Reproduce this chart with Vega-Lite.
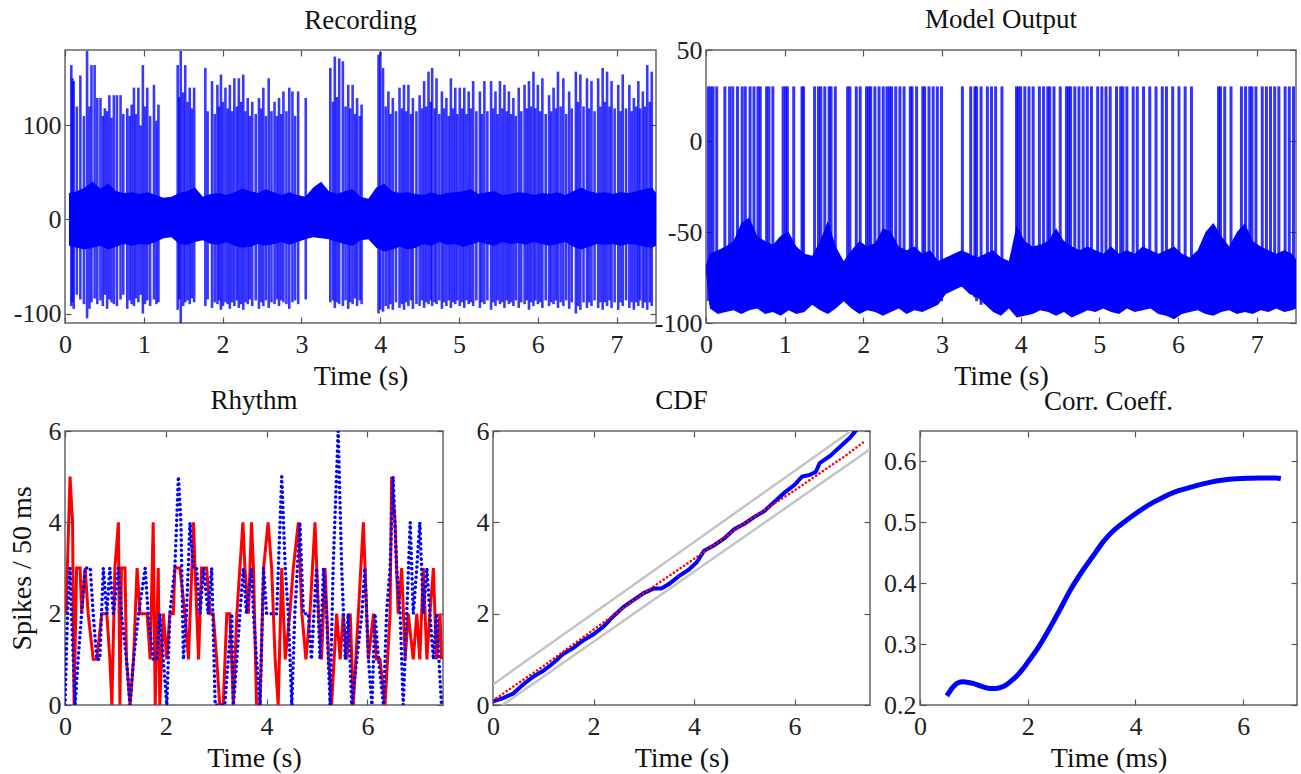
{
  "$schema": "https://vega.github.io/schema/vega-lite/v6.json",
  "padding": {"left": 7, "top": 5, "right": 0, "bottom": 0},
  "background": "white",
  "bounds": "flush",
  "spacing": 381,
  "config": {
    "view": {"stroke": "#666666", "strokeWidth": 1.5},
    "font": "Liberation Serif",
    "axis": {"domain": false, "grid": false, "tickSize": -6, "tickColor": "#555555", "tickWidth": 1.2, "labelFont": "Liberation Serif", "labelFontSize": 26, "labelColor": "#222222", "titleFont": "Liberation Serif", "titleFontSize": 28, "titleFontWeight": "normal", "titleColor": "#111111", "titlePadding": 5, "labelFlush": false, "labelOverlap": false},
    "axisX": {"labelPadding": 14},
    "axisY": {"labelPadding": 10},
    "title": {"font": "Liberation Serif", "fontSize": 27, "fontWeight": "normal", "color": "#111111", "baseline": "alphabetic", "anchor": "middle"}
  },
  "datasets": {
    "recBand": [
      {"t":0.05,"lo":-28,"hi":28},{"t":0.15,"lo":-30,"hi":30},{"t":0.25,"lo":-32,"hi":34},{"t":0.35,"lo":-30,"hi":40},{"t":0.45,"lo":-28,"hi":33},{"t":0.55,"lo":-32,"hi":38},{"t":0.65,"lo":-29,"hi":30},{"t":0.75,"lo":-26,"hi":28},{"t":0.85,"lo":-28,"hi":29},{"t":0.95,"lo":-26,"hi":27},{"t":1.05,"lo":-27,"hi":29},{"t":1.15,"lo":-24,"hi":26},{"t":1.25,"lo":-20,"hi":23},{"t":1.35,"lo":-19,"hi":24},{"t":1.45,"lo":-26,"hi":28},{"t":1.55,"lo":-27,"hi":30},{"t":1.65,"lo":-24,"hi":34},{"t":1.75,"lo":-22,"hi":24},{"t":1.85,"lo":-26,"hi":27},{"t":1.95,"lo":-27,"hi":28},{"t":2.05,"lo":-24,"hi":26},{"t":2.15,"lo":-28,"hi":29},{"t":2.25,"lo":-30,"hi":33},{"t":2.35,"lo":-29,"hi":30},{"t":2.45,"lo":-26,"hi":28},{"t":2.55,"lo":-28,"hi":32},{"t":2.65,"lo":-26,"hi":29},{"t":2.75,"lo":-24,"hi":26},{"t":2.85,"lo":-27,"hi":29},{"t":2.95,"lo":-24,"hi":26},{"t":3.05,"lo":-21,"hi":24},{"t":3.15,"lo":-19,"hi":34},{"t":3.25,"lo":-20,"hi":40},{"t":3.35,"lo":-21,"hi":30},{"t":3.45,"lo":-24,"hi":27},{"t":3.55,"lo":-26,"hi":30},{"t":3.65,"lo":-28,"hi":32},{"t":3.75,"lo":-22,"hi":24},{"t":3.85,"lo":-21,"hi":22},{"t":3.95,"lo":-30,"hi":34},{"t":4.05,"lo":-34,"hi":38},{"t":4.15,"lo":-32,"hi":30},{"t":4.25,"lo":-29,"hi":28},{"t":4.35,"lo":-32,"hi":29},{"t":4.45,"lo":-30,"hi":27},{"t":4.55,"lo":-26,"hi":26},{"t":4.65,"lo":-28,"hi":29},{"t":4.75,"lo":-24,"hi":26},{"t":4.85,"lo":-27,"hi":28},{"t":4.95,"lo":-26,"hi":29},{"t":5.05,"lo":-29,"hi":30},{"t":5.15,"lo":-27,"hi":32},{"t":5.25,"lo":-24,"hi":27},{"t":5.35,"lo":-26,"hi":29},{"t":5.45,"lo":-28,"hi":30},{"t":5.55,"lo":-24,"hi":26},{"t":5.65,"lo":-26,"hi":27},{"t":5.75,"lo":-25,"hi":29},{"t":5.85,"lo":-27,"hi":28},{"t":5.95,"lo":-24,"hi":26},{"t":6.05,"lo":-26,"hi":28},{"t":6.15,"lo":-28,"hi":27},{"t":6.25,"lo":-26,"hi":29},{"t":6.35,"lo":-24,"hi":26},{"t":6.45,"lo":-29,"hi":30},{"t":6.55,"lo":-32,"hi":34},{"t":6.65,"lo":-29,"hi":30},{"t":6.75,"lo":-26,"hi":28},{"t":6.85,"lo":-27,"hi":29},{"t":6.95,"lo":-26,"hi":27},{"t":7.05,"lo":-28,"hi":29},{"t":7.15,"lo":-26,"hi":28},{"t":7.25,"lo":-27,"hi":30},{"t":7.35,"lo":-29,"hi":32},{"t":7.45,"lo":-30,"hi":34},{"t":7.5,"lo":-28,"hi":28}
    ],
    "recSpikes": [
      {"t":0.08,"lo":-92,"hi":164},{"t":0.095,"lo":-88,"hi":150},{"t":0.11,"lo":-95,"hi":147},{"t":0.15,"lo":-80,"hi":120},{"t":0.195,"lo":-85,"hi":153},{"t":0.24,"lo":-90,"hi":110},{"t":0.28,"lo":-105,"hi":179},{"t":0.31,"lo":-95,"hi":120},{"t":0.336,"lo":-88,"hi":164},{"t":0.376,"lo":-84,"hi":164},{"t":0.41,"lo":-90,"hi":129},{"t":0.45,"lo":-86,"hi":129},{"t":0.48,"lo":-92,"hi":110},{"t":0.506,"lo":-80,"hi":118},{"t":0.535,"lo":-95,"hi":115},{"t":0.563,"lo":-85,"hi":132},{"t":0.59,"lo":-88,"hi":108},{"t":0.62,"lo":-90,"hi":132},{"t":0.659,"lo":-92,"hi":132},{"t":0.705,"lo":-85,"hi":132},{"t":0.74,"lo":-80,"hi":112},{"t":0.79,"lo":-95,"hi":118},{"t":0.82,"lo":-86,"hi":110},{"t":0.846,"lo":-90,"hi":122},{"t":0.875,"lo":-92,"hi":140},{"t":0.9,"lo":-84,"hi":112},{"t":0.931,"lo":-88,"hi":140},{"t":0.96,"lo":-80,"hi":100},{"t":0.988,"lo":-100,"hi":164},{"t":1.015,"lo":-90,"hi":120},{"t":1.044,"lo":-86,"hi":140},{"t":1.08,"lo":-92,"hi":110},{"t":1.129,"lo":-85,"hi":143},{"t":1.16,"lo":-90,"hi":105},{"t":1.186,"lo":-88,"hi":122},
      {"t":1.43,"lo":-96,"hi":164},{"t":1.45,"lo":-85,"hi":130},{"t":1.469,"lo":-110,"hi":179},{"t":1.5,"lo":-92,"hi":135},{"t":1.526,"lo":-88,"hi":164},{"t":1.555,"lo":-86,"hi":125},{"t":1.583,"lo":-90,"hi":140},{"t":1.61,"lo":-84,"hi":118},{"t":1.639,"lo":-88,"hi":140},
      {"t":1.781,"lo":-92,"hi":161},{"t":1.81,"lo":-85,"hi":115},{"t":1.866,"lo":-94,"hi":147},{"t":1.9,"lo":-88,"hi":112},{"t":1.934,"lo":-90,"hi":143},{"t":1.955,"lo":-86,"hi":120},{"t":1.979,"lo":-96,"hi":154},{"t":2.005,"lo":-92,"hi":125},{"t":2.036,"lo":-88,"hi":140},{"t":2.065,"lo":-90,"hi":118},{"t":2.092,"lo":-95,"hi":143},{"t":2.12,"lo":-88,"hi":115},{"t":2.149,"lo":-92,"hi":150},{"t":2.18,"lo":-86,"hi":120},{"t":2.206,"lo":-94,"hi":150},{"t":2.235,"lo":-90,"hi":125},{"t":2.262,"lo":-96,"hi":154},{"t":2.29,"lo":-88,"hi":115},{"t":2.319,"lo":-90,"hi":129},{"t":2.345,"lo":-85,"hi":110},{"t":2.376,"lo":-92,"hi":125},{"t":2.42,"lo":-86,"hi":112},{"t":2.461,"lo":-95,"hi":129},{"t":2.49,"lo":-88,"hi":118},{"t":2.517,"lo":-92,"hi":140},{"t":2.55,"lo":-86,"hi":110},{"t":2.585,"lo":-94,"hi":150},{"t":2.62,"lo":-88,"hi":115},{"t":2.659,"lo":-90,"hi":125},{"t":2.69,"lo":-85,"hi":110},{"t":2.716,"lo":-92,"hi":129},{"t":2.745,"lo":-86,"hi":112},{"t":2.772,"lo":-88,"hi":136},{"t":2.81,"lo":-90,"hi":115},{"t":2.846,"lo":-95,"hi":140},{"t":2.886,"lo":-88,"hi":136},{"t":2.92,"lo":-86,"hi":110},{"t":2.959,"lo":-90,"hi":136},
      {"t":3.055,"lo":-85,"hi":129},{"t":3.367,"lo":-88,"hi":161},{"t":3.4,"lo":-86,"hi":125},{"t":3.424,"lo":-94,"hi":173},{"t":3.45,"lo":-88,"hi":130},{"t":3.48,"lo":-90,"hi":171},{"t":3.526,"lo":-92,"hi":168},{"t":3.56,"lo":-86,"hi":120},{"t":3.594,"lo":-95,"hi":143},{"t":3.62,"lo":-88,"hi":118},{"t":3.65,"lo":-90,"hi":143},{"t":3.68,"lo":-84,"hi":112},{"t":3.707,"lo":-92,"hi":129},{"t":3.74,"lo":-86,"hi":110},{"t":3.764,"lo":-90,"hi":122},
      {"t":3.979,"lo":-100,"hi":175},{"t":4.002,"lo":-96,"hi":178},{"t":4.036,"lo":-98,"hi":161},{"t":4.07,"lo":-92,"hi":120},{"t":4.104,"lo":-95,"hi":136},{"t":4.13,"lo":-90,"hi":112},{"t":4.16,"lo":-96,"hi":129},{"t":4.2,"lo":-88,"hi":115},{"t":4.245,"lo":-94,"hi":140},{"t":4.275,"lo":-90,"hi":118},{"t":4.302,"lo":-96,"hi":143},{"t":4.33,"lo":-88,"hi":115},{"t":4.358,"lo":-92,"hi":143},{"t":4.39,"lo":-86,"hi":112},{"t":4.415,"lo":-95,"hi":129},{"t":4.46,"lo":-90,"hi":115},{"t":4.5,"lo":-92,"hi":132},{"t":4.53,"lo":-86,"hi":118},{"t":4.557,"lo":-94,"hi":147},{"t":4.585,"lo":-88,"hi":120},{"t":4.613,"lo":-90,"hi":157},{"t":4.64,"lo":-86,"hi":125},{"t":4.659,"lo":-92,"hi":161},{"t":4.69,"lo":-88,"hi":118},{"t":4.715,"lo":-90,"hi":150},{"t":4.75,"lo":-86,"hi":112},{"t":4.783,"lo":-95,"hi":136},{"t":4.81,"lo":-88,"hi":118},{"t":4.84,"lo":-92,"hi":129},{"t":4.87,"lo":-86,"hi":110},{"t":4.897,"lo":-94,"hi":150},{"t":4.925,"lo":-88,"hi":118},{"t":4.953,"lo":-90,"hi":140},{"t":4.98,"lo":-86,"hi":112},{"t":5.01,"lo":-92,"hi":140},{"t":5.04,"lo":-88,"hi":118},{"t":5.067,"lo":-94,"hi":140},{"t":5.095,"lo":-86,"hi":112},{"t":5.123,"lo":-90,"hi":136},{"t":5.15,"lo":-88,"hi":118},{"t":5.18,"lo":-92,"hi":147},{"t":5.22,"lo":-86,"hi":115},{"t":5.265,"lo":-94,"hi":136},{"t":5.29,"lo":-88,"hi":112},{"t":5.322,"lo":-90,"hi":147},{"t":5.36,"lo":-86,"hi":115},{"t":5.407,"lo":-96,"hi":147},{"t":5.435,"lo":-88,"hi":118},{"t":5.463,"lo":-92,"hi":136},{"t":5.49,"lo":-86,"hi":112},{"t":5.52,"lo":-90,"hi":147},{"t":5.55,"lo":-88,"hi":118},{"t":5.577,"lo":-94,"hi":143},{"t":5.605,"lo":-86,"hi":115},{"t":5.633,"lo":-90,"hi":136},{"t":5.66,"lo":-88,"hi":112},{"t":5.69,"lo":-92,"hi":129},{"t":5.72,"lo":-86,"hi":110},{"t":5.758,"lo":-94,"hi":140},{"t":5.79,"lo":-88,"hi":115},{"t":5.832,"lo":-90,"hi":143},{"t":5.86,"lo":-86,"hi":118},{"t":5.888,"lo":-96,"hi":147},{"t":5.915,"lo":-88,"hi":120},{"t":5.945,"lo":-92,"hi":157},{"t":5.97,"lo":-86,"hi":118},{"t":6.001,"lo":-90,"hi":143},{"t":6.03,"lo":-88,"hi":115},{"t":6.058,"lo":-94,"hi":150},{"t":6.1,"lo":-86,"hi":112},{"t":6.143,"lo":-92,"hi":132},{"t":6.17,"lo":-88,"hi":115},{"t":6.2,"lo":-90,"hi":140},{"t":6.23,"lo":-86,"hi":118},{"t":6.256,"lo":-94,"hi":157},{"t":6.29,"lo":-88,"hi":120},{"t":6.324,"lo":-92,"hi":150},{"t":6.36,"lo":-86,"hi":112},{"t":6.398,"lo":-95,"hi":136},{"t":6.43,"lo":-88,"hi":118},{"t":6.483,"lo":-100,"hi":157},{"t":6.51,"lo":-92,"hi":125},{"t":6.54,"lo":-96,"hi":154},{"t":6.58,"lo":-88,"hi":120},{"t":6.624,"lo":-94,"hi":150},{"t":6.65,"lo":-88,"hi":118},{"t":6.681,"lo":-92,"hi":147},{"t":6.72,"lo":-86,"hi":115},{"t":6.766,"lo":-94,"hi":150},{"t":6.795,"lo":-88,"hi":120},{"t":6.823,"lo":-96,"hi":161},{"t":6.85,"lo":-88,"hi":125},{"t":6.879,"lo":-92,"hi":157},{"t":6.91,"lo":-86,"hi":120},{"t":6.936,"lo":-94,"hi":147},{"t":6.975,"lo":-88,"hi":118},{"t":7.021,"lo":-96,"hi":143},{"t":7.05,"lo":-88,"hi":115},{"t":7.078,"lo":-92,"hi":154},{"t":7.12,"lo":-86,"hi":118},{"t":7.162,"lo":-94,"hi":143},{"t":7.19,"lo":-88,"hi":115},{"t":7.219,"lo":-96,"hi":129},{"t":7.25,"lo":-88,"hi":120},{"t":7.276,"lo":-92,"hi":147},{"t":7.3,"lo":-86,"hi":118},{"t":7.333,"lo":-94,"hi":136},{"t":7.36,"lo":-88,"hi":120},{"t":7.389,"lo":-96,"hi":164},{"t":7.42,"lo":-88,"hi":125},{"t":7.446,"lo":-92,"hi":157}
    ],
    "modBand": [
      {"t":0.0,"lo":-72,"hi":-68},{"t":0.05,"lo":-92,"hi":-62},{"t":0.15,"lo":-95,"hi":-60},{"t":0.25,"lo":-94,"hi":-58},{"t":0.35,"lo":-93,"hi":-55},{"t":0.45,"lo":-95,"hi":-45},{"t":0.55,"lo":-93,"hi":-42},{"t":0.65,"lo":-92,"hi":-52},{"t":0.75,"lo":-95,"hi":-55},{"t":0.85,"lo":-94,"hi":-57},{"t":0.95,"lo":-96,"hi":-52},{"t":1.05,"lo":-93,"hi":-50},{"t":1.15,"lo":-95,"hi":-58},{"t":1.25,"lo":-94,"hi":-62},{"t":1.35,"lo":-90,"hi":-63},{"t":1.45,"lo":-93,"hi":-55},{"t":1.55,"lo":-95,"hi":-44},{"t":1.65,"lo":-92,"hi":-58},{"t":1.75,"lo":-88,"hi":-66},{"t":1.85,"lo":-92,"hi":-60},{"t":1.95,"lo":-95,"hi":-55},{"t":2.05,"lo":-93,"hi":-58},{"t":2.15,"lo":-94,"hi":-56},{"t":2.25,"lo":-96,"hi":-48},{"t":2.35,"lo":-94,"hi":-50},{"t":2.45,"lo":-92,"hi":-58},{"t":2.55,"lo":-95,"hi":-60},{"t":2.65,"lo":-93,"hi":-58},{"t":2.75,"lo":-94,"hi":-62},{"t":2.85,"lo":-92,"hi":-60},{"t":2.95,"lo":-90,"hi":-66},{"t":3.05,"lo":-84,"hi":-64},{"t":3.15,"lo":-82,"hi":-62},{"t":3.25,"lo":-80,"hi":-60},{"t":3.35,"lo":-84,"hi":-62},{"t":3.45,"lo":-86,"hi":-64},{"t":3.55,"lo":-90,"hi":-62},{"t":3.65,"lo":-94,"hi":-60},{"t":3.75,"lo":-96,"hi":-64},{"t":3.85,"lo":-92,"hi":-66},{"t":3.95,"lo":-97,"hi":-46},{"t":4.05,"lo":-96,"hi":-55},{"t":4.15,"lo":-95,"hi":-58},{"t":4.25,"lo":-93,"hi":-57},{"t":4.35,"lo":-94,"hi":-55},{"t":4.45,"lo":-96,"hi":-48},{"t":4.55,"lo":-94,"hi":-55},{"t":4.65,"lo":-97,"hi":-58},{"t":4.75,"lo":-95,"hi":-60},{"t":4.85,"lo":-93,"hi":-58},{"t":4.95,"lo":-94,"hi":-60},{"t":5.05,"lo":-92,"hi":-62},{"t":5.15,"lo":-94,"hi":-58},{"t":5.25,"lo":-95,"hi":-62},{"t":5.35,"lo":-92,"hi":-60},{"t":5.45,"lo":-94,"hi":-62},{"t":5.55,"lo":-93,"hi":-58},{"t":5.65,"lo":-92,"hi":-60},{"t":5.75,"lo":-95,"hi":-62},{"t":5.85,"lo":-96,"hi":-60},{"t":5.95,"lo":-98,"hi":-58},{"t":6.05,"lo":-95,"hi":-62},{"t":6.15,"lo":-94,"hi":-64},{"t":6.25,"lo":-93,"hi":-60},{"t":6.35,"lo":-95,"hi":-50},{"t":6.45,"lo":-96,"hi":-45},{"t":6.55,"lo":-94,"hi":-52},{"t":6.65,"lo":-93,"hi":-58},{"t":6.75,"lo":-95,"hi":-50},{"t":6.85,"lo":-94,"hi":-45},{"t":6.95,"lo":-95,"hi":-55},{"t":7.05,"lo":-93,"hi":-58},{"t":7.15,"lo":-94,"hi":-60},{"t":7.25,"lo":-92,"hi":-62},{"t":7.35,"lo":-94,"hi":-60},{"t":7.45,"lo":-93,"hi":-62},{"t":7.5,"lo":-92,"hi":-65}
    ],
    "modSpikes": [
      {"t":0.03,"lo":-88,"hi":30},{"t":0.06,"lo":-90,"hi":30},{"t":0.09,"lo":-86,"hi":30},{"t":0.136,"lo":-88,"hi":30},{"t":0.24,"lo":-90,"hi":30},{"t":0.3,"lo":-86,"hi":30},{"t":0.34,"lo":-88,"hi":30},{"t":0.4,"lo":-90,"hi":30},{"t":0.46,"lo":-86,"hi":30},{"t":0.5,"lo":-88,"hi":30},{"t":0.56,"lo":-90,"hi":30},{"t":0.61,"lo":-86,"hi":30},{"t":0.66,"lo":-88,"hi":30},{"t":0.69,"lo":-90,"hi":30},{"t":0.77,"lo":-86,"hi":30},{"t":0.8,"lo":-88,"hi":30},{"t":0.85,"lo":-90,"hi":30},{"t":0.98,"lo":-86,"hi":30},{"t":1.01,"lo":-88,"hi":30},{"t":1.035,"lo":-90,"hi":30},{"t":1.115,"lo":-86,"hi":30},{"t":1.22,"lo":-88,"hi":30},{"t":1.24,"lo":-90,"hi":30},{"t":1.38,"lo":-86,"hi":30},{"t":1.43,"lo":-88,"hi":30},{"t":1.46,"lo":-90,"hi":30},{"t":1.51,"lo":-86,"hi":30},{"t":1.565,"lo":-88,"hi":30},{"t":1.59,"lo":-90,"hi":30},{"t":1.644,"lo":-86,"hi":30},{"t":1.8,"lo":-88,"hi":30},{"t":1.83,"lo":-90,"hi":30},{"t":1.91,"lo":-86,"hi":30},{"t":1.96,"lo":-88,"hi":30},{"t":2.04,"lo":-90,"hi":30},{"t":2.07,"lo":-86,"hi":30},{"t":2.094,"lo":-88,"hi":30},{"t":2.147,"lo":-90,"hi":30},{"t":2.2,"lo":-86,"hi":30},{"t":2.253,"lo":-88,"hi":30},{"t":2.3,"lo":-90,"hi":30},{"t":2.332,"lo":-86,"hi":30},{"t":2.36,"lo":-88,"hi":30},{"t":2.412,"lo":-90,"hi":30},{"t":2.465,"lo":-86,"hi":30},{"t":2.518,"lo":-88,"hi":30},{"t":2.597,"lo":-90,"hi":30},{"t":2.62,"lo":-86,"hi":30},{"t":2.677,"lo":-88,"hi":30},{"t":2.756,"lo":-90,"hi":30},{"t":2.78,"lo":-86,"hi":30},{"t":2.835,"lo":-88,"hi":30},{"t":2.888,"lo":-90,"hi":30},{"t":2.941,"lo":-86,"hi":30},{"t":2.994,"lo":-88,"hi":30},{"t":3.259,"lo":-80,"hi":30},{"t":3.365,"lo":-84,"hi":30},{"t":3.418,"lo":-86,"hi":30},{"t":3.44,"lo":-88,"hi":30},{"t":3.497,"lo":-90,"hi":30},{"t":3.577,"lo":-86,"hi":30},{"t":3.629,"lo":-88,"hi":30},{"t":3.682,"lo":-90,"hi":30},{"t":3.762,"lo":-86,"hi":30},{"t":3.947,"lo":-88,"hi":30},{"t":3.97,"lo":-90,"hi":30},{"t":4.0,"lo":-86,"hi":30},{"t":4.053,"lo":-88,"hi":30},{"t":4.106,"lo":-90,"hi":30},{"t":4.159,"lo":-86,"hi":30},{"t":4.238,"lo":-88,"hi":30},{"t":4.291,"lo":-90,"hi":30},{"t":4.344,"lo":-86,"hi":30},{"t":4.37,"lo":-88,"hi":30},{"t":4.424,"lo":-90,"hi":30},{"t":4.503,"lo":-86,"hi":30},{"t":4.582,"lo":-88,"hi":30},{"t":4.61,"lo":-90,"hi":30},{"t":4.635,"lo":-86,"hi":30},{"t":4.688,"lo":-88,"hi":30},{"t":4.741,"lo":-90,"hi":30},{"t":4.794,"lo":-86,"hi":30},{"t":4.847,"lo":-88,"hi":30},{"t":4.9,"lo":-90,"hi":30},{"t":4.979,"lo":-86,"hi":30},{"t":5.032,"lo":-88,"hi":30},{"t":5.085,"lo":-90,"hi":30},{"t":5.138,"lo":-86,"hi":30},{"t":5.218,"lo":-88,"hi":30},{"t":5.271,"lo":-90,"hi":30},{"t":5.3,"lo":-86,"hi":30},{"t":5.35,"lo":-88,"hi":30},{"t":5.43,"lo":-90,"hi":30},{"t":5.482,"lo":-86,"hi":30},{"t":5.562,"lo":-88,"hi":30},{"t":5.641,"lo":-90,"hi":30},{"t":5.721,"lo":-86,"hi":30},{"t":5.8,"lo":-88,"hi":30},{"t":5.853,"lo":-90,"hi":30},{"t":5.932,"lo":-86,"hi":30},{"t":6.012,"lo":-88,"hi":30},{"t":6.091,"lo":-90,"hi":30},{"t":6.171,"lo":-86,"hi":30},{"t":6.515,"lo":-88,"hi":30},{"t":6.54,"lo":-90,"hi":30},{"t":6.594,"lo":-86,"hi":30},{"t":6.674,"lo":-88,"hi":30},{"t":6.806,"lo":-90,"hi":30},{"t":6.859,"lo":-86,"hi":30},{"t":6.912,"lo":-88,"hi":30},{"t":6.94,"lo":-90,"hi":30},{"t":6.991,"lo":-86,"hi":30},{"t":7.071,"lo":-88,"hi":30},{"t":7.124,"lo":-90,"hi":30},{"t":7.176,"lo":-86,"hi":30},{"t":7.229,"lo":-88,"hi":30},{"t":7.282,"lo":-90,"hi":30},{"t":7.362,"lo":-86,"hi":30},{"t":7.415,"lo":-88,"hi":30},{"t":7.468,"lo":-90,"hi":30}
    ],
    "rhythmRed": [
      {"t":0.02,"v":2},{"t":0.1,"v":5},{"t":0.15,"v":4},{"t":0.18,"v":0},{"t":0.23,"v":3},{"t":0.3,"v":3},{"t":0.33,"v":2},{"t":0.4,"v":3},{"t":0.46,"v":2},{"t":0.56,"v":1},{"t":0.63,"v":1},{"t":0.73,"v":2},{"t":0.83,"v":2},{"t":0.89,"v":1},{"t":0.93,"v":0},{"t":0.99,"v":3},{"t":1.06,"v":4},{"t":1.09,"v":0},{"t":1.12,"v":3},{"t":1.19,"v":3},{"t":1.22,"v":1},{"t":1.29,"v":0},{"t":1.36,"v":1},{"t":1.43,"v":3},{"t":1.49,"v":2},{"t":1.55,"v":2},{"t":1.63,"v":2},{"t":1.69,"v":1},{"t":1.75,"v":4},{"t":1.79,"v":0},{"t":1.85,"v":3},{"t":1.88,"v":0},{"t":1.95,"v":2},{"t":2.02,"v":1},{"t":2.08,"v":2},{"t":2.15,"v":2},{"t":2.18,"v":3},{"t":2.28,"v":3},{"t":2.38,"v":2},{"t":2.45,"v":1},{"t":2.55,"v":4},{"t":2.58,"v":3},{"t":2.65,"v":1},{"t":2.71,"v":3},{"t":2.81,"v":3},{"t":2.88,"v":2},{"t":2.94,"v":2},{"t":3.01,"v":1},{"t":3.07,"v":0},{"t":3.14,"v":0},{"t":3.21,"v":2},{"t":3.27,"v":2},{"t":3.34,"v":0},{"t":3.41,"v":2},{"t":3.47,"v":3},{"t":3.53,"v":4},{"t":3.57,"v":3},{"t":3.64,"v":2},{"t":3.7,"v":4},{"t":3.74,"v":3},{"t":3.8,"v":0},{"t":3.87,"v":0},{"t":3.94,"v":3},{"t":4.03,"v":4},{"t":4.1,"v":3},{"t":4.17,"v":1},{"t":4.23,"v":0},{"t":4.3,"v":3},{"t":4.37,"v":1},{"t":4.46,"v":2},{"t":4.53,"v":3},{"t":4.63,"v":4},{"t":4.7,"v":2},{"t":4.78,"v":1},{"t":4.86,"v":2},{"t":4.96,"v":4},{"t":5.03,"v":2},{"t":5.09,"v":1},{"t":5.16,"v":3},{"t":5.23,"v":1},{"t":5.29,"v":0},{"t":5.39,"v":2},{"t":5.46,"v":1},{"t":5.52,"v":2},{"t":5.59,"v":1},{"t":5.66,"v":2},{"t":5.72,"v":0},{"t":5.82,"v":2},{"t":5.92,"v":4},{"t":6.02,"v":1},{"t":6.12,"v":2},{"t":6.18,"v":1},{"t":6.25,"v":1},{"t":6.35,"v":0},{"t":6.45,"v":2},{"t":6.48,"v":5},{"t":6.55,"v":4},{"t":6.61,"v":2},{"t":6.68,"v":3},{"t":6.75,"v":1},{"t":6.81,"v":2},{"t":6.91,"v":1},{"t":6.98,"v":2},{"t":7.04,"v":1},{"t":7.11,"v":3},{"t":7.18,"v":1},{"t":7.24,"v":2},{"t":7.31,"v":3},{"t":7.37,"v":1},{"t":7.44,"v":2},{"t":7.47,"v":1}
    ],
    "rhythmBlue": [
      {"t":0.0,"v":0},{"t":0.05,"v":2},{"t":0.1,"v":3},{"t":0.13,"v":2},{"t":0.2,"v":0},{"t":0.26,"v":1},{"t":0.33,"v":2},{"t":0.4,"v":3},{"t":0.5,"v":3},{"t":0.56,"v":2},{"t":0.63,"v":1},{"t":0.69,"v":1},{"t":0.76,"v":3},{"t":0.83,"v":2},{"t":0.89,"v":3},{"t":0.96,"v":2},{"t":1.06,"v":3},{"t":1.12,"v":2},{"t":1.22,"v":1},{"t":1.29,"v":0},{"t":1.36,"v":1},{"t":1.46,"v":2},{"t":1.59,"v":3},{"t":1.65,"v":2},{"t":1.75,"v":1},{"t":1.82,"v":1},{"t":1.88,"v":2},{"t":1.95,"v":1},{"t":2.02,"v":0},{"t":2.08,"v":2},{"t":2.18,"v":3},{"t":2.25,"v":5},{"t":2.3,"v":4},{"t":2.35,"v":1},{"t":2.41,"v":2},{"t":2.48,"v":4},{"t":2.55,"v":3},{"t":2.61,"v":3},{"t":2.68,"v":2},{"t":2.75,"v":3},{"t":2.84,"v":2},{"t":2.91,"v":3},{"t":2.98,"v":0},{"t":3.07,"v":0},{"t":3.17,"v":0},{"t":3.24,"v":1},{"t":3.31,"v":2},{"t":3.34,"v":0},{"t":3.41,"v":1},{"t":3.47,"v":2},{"t":3.54,"v":3},{"t":3.6,"v":2},{"t":3.7,"v":3},{"t":3.74,"v":2},{"t":3.8,"v":1},{"t":3.87,"v":0},{"t":3.94,"v":3},{"t":4.0,"v":2},{"t":4.1,"v":2},{"t":4.2,"v":2},{"t":4.3,"v":5},{"t":4.37,"v":3},{"t":4.43,"v":2},{"t":4.5,"v":0},{"t":4.56,"v":2},{"t":4.66,"v":4},{"t":4.73,"v":2},{"t":4.83,"v":2},{"t":4.89,"v":1},{"t":4.99,"v":3},{"t":5.06,"v":1},{"t":5.13,"v":3},{"t":5.19,"v":2},{"t":5.26,"v":0},{"t":5.32,"v":3},{"t":5.42,"v":6},{"t":5.49,"v":3},{"t":5.56,"v":1},{"t":5.62,"v":2},{"t":5.69,"v":0},{"t":5.79,"v":1},{"t":5.89,"v":2},{"t":5.95,"v":3},{"t":6.02,"v":1},{"t":6.09,"v":0},{"t":6.15,"v":2},{"t":6.22,"v":1},{"t":6.32,"v":0},{"t":6.38,"v":2},{"t":6.45,"v":3},{"t":6.51,"v":5},{"t":6.58,"v":3},{"t":6.65,"v":2},{"t":6.71,"v":0},{"t":6.78,"v":2},{"t":6.85,"v":4},{"t":6.91,"v":2},{"t":6.98,"v":3},{"t":7.04,"v":4},{"t":7.11,"v":2},{"t":7.18,"v":3},{"t":7.24,"v":2},{"t":7.31,"v":1},{"t":7.37,"v":2},{"t":7.47,"v":0}
    ],
    "cdfGray": [
      {"t":0.0,"v":0.45,"s":"upper"},{"t":7.12,"v":6.0,"s":"upper"},
      {"t":0.19,"v":0.0,"s":"lower"},{"t":7.5,"v":5.6,"s":"lower"}
    ],
    "cdfBlue": [
      {"t":0.0,"v":0.08},{"t":0.2,"v":0.15},{"t":0.4,"v":0.25},{"t":0.6,"v":0.45},{"t":0.8,"v":0.62},{"t":1.0,"v":0.75},{"t":1.2,"v":0.92},{"t":1.4,"v":1.12},{"t":1.6,"v":1.25},{"t":1.8,"v":1.42},{"t":2.0,"v":1.55},{"t":2.2,"v":1.72},{"t":2.4,"v":1.95},{"t":2.6,"v":2.15},{"t":2.8,"v":2.3},{"t":3.0,"v":2.45},{"t":3.2,"v":2.55},{"t":3.35,"v":2.55},{"t":3.5,"v":2.65},{"t":3.7,"v":2.82},{"t":3.9,"v":2.97},{"t":4.05,"v":3.12},{"t":4.2,"v":3.38},{"t":4.4,"v":3.5},{"t":4.6,"v":3.65},{"t":4.8,"v":3.85},{"t":5.0,"v":3.97},{"t":5.2,"v":4.12},{"t":5.4,"v":4.25},{"t":5.6,"v":4.45},{"t":5.8,"v":4.65},{"t":6.0,"v":4.82},{"t":6.15,"v":5.0},{"t":6.3,"v":5.04},{"t":6.42,"v":5.1},{"t":6.5,"v":5.3},{"t":6.7,"v":5.45},{"t":6.9,"v":5.65},{"t":7.1,"v":5.85},{"t":7.25,"v":6.05}
    ],
    "cdfRed": [
      {"t":0.0,"v":0.1},{"t":1.0,"v":0.85},{"t":2.0,"v":1.65},{"t":3.0,"v":2.45},{"t":4.0,"v":3.2},{"t":5.0,"v":3.98},{"t":6.0,"v":4.7},{"t":7.0,"v":5.45},{"t":7.4,"v":5.78}
    ],
    "corr": [
      {"t":0.5,"r":0.215},{"t":0.6,"r":0.228},{"t":0.7,"r":0.236},{"t":0.8,"r":0.238},{"t":0.9,"r":0.237},{"t":1.0,"r":0.235},{"t":1.1,"r":0.232},{"t":1.2,"r":0.229},{"t":1.3,"r":0.227},{"t":1.4,"r":0.227},{"t":1.5,"r":0.229},{"t":1.6,"r":0.233},{"t":1.7,"r":0.24},{"t":1.8,"r":0.248},{"t":1.9,"r":0.258},{"t":2.0,"r":0.27},{"t":2.2,"r":0.295},{"t":2.4,"r":0.325},{"t":2.6,"r":0.357},{"t":2.8,"r":0.39},{"t":3.0,"r":0.418},{"t":3.2,"r":0.443},{"t":3.4,"r":0.468},{"t":3.6,"r":0.487},{"t":3.8,"r":0.501},{"t":4.0,"r":0.514},{"t":4.2,"r":0.526},{"t":4.4,"r":0.536},{"t":4.6,"r":0.545},{"t":4.8,"r":0.552},{"t":5.0,"r":0.557},{"t":5.2,"r":0.562},{"t":5.4,"r":0.566},{"t":5.6,"r":0.569},{"t":5.8,"r":0.571},{"t":6.0,"r":0.572},{"t":6.3,"r":0.573},{"t":6.6,"r":0.573},{"t":6.7,"r":0.572}
    ]
  },
  "vconcat": [
    {
      "bounds": "flush",
      "spacing": 50,
      "hconcat": [
        {
          "width": 591, "height": 273,
          "title": {"text": "Recording", "offset": 14},
          "layer": [
            {"data": {"name": "recBand"}, "mark": {"type": "area", "color": "#0000ff", "clip": true},
             "encoding": {
               "x": {"field": "t", "type": "quantitative", "scale": {"domain": [0, 7.5], "nice": false, "zero": false}, "axis": {"values": [0,1,2,3,4,5,6,7], "title": "Time (s)"}},
               "y": {"field": "lo", "type": "quantitative", "scale": {"domain": [-110, 180], "nice": false, "zero": false}, "axis": {"values": [-100, 0, 100], "title": null, "labelExpr": "toString(datum.value)"}},
               "y2": {"field": "hi"}}},
            {"data": {"name": "recSpikes"}, "mark": {"type": "rule", "color": "#0000ff", "strokeWidth": 2.6, "opacity": 0.78, "clip": true},
             "encoding": {
               "x": {"field": "t", "type": "quantitative", "scale": {"domain": [0, 7.5], "nice": false, "zero": false}, "axis": null},
               "y": {"field": "lo", "type": "quantitative", "scale": {"domain": [-110, 180], "nice": false, "zero": false}, "axis": null},
               "y2": {"field": "hi"}}},
            {"data": {"name": "recBand"}, "mark": {"type": "point", "opacity": 0},
             "encoding": {
               "x": {"field": "t", "type": "quantitative", "scale": {"domain": [0, 7.5], "nice": false, "zero": false}, "axis": {"orient": "top", "values": [0,1,2,3,4,5,6,7], "labels": false, "title": null}},
               "y": {"field": "lo", "type": "quantitative", "scale": {"domain": [-110, 180], "nice": false, "zero": false}, "axis": {"orient": "right", "values": [-100, 0, 100], "labels": false, "title": null}}}}
          ],
          "resolve": {"axis": {"x": "independent", "y": "independent"}}
        },
        {
          "width": 590, "height": 273,
          "title": {"text": "Model Output", "offset": 3},
          "layer": [
            {"data": {"name": "modBand"}, "mark": {"type": "area", "color": "#0000ff", "clip": true},
             "encoding": {
               "x": {"field": "t", "type": "quantitative", "scale": {"domain": [0, 7.5], "nice": false, "zero": false}, "axis": {"values": [0,1,2,3,4,5,6,7], "title": "Time (s)"}},
               "y": {"field": "lo", "type": "quantitative", "scale": {"domain": [-100, 50], "nice": false, "zero": false}, "axis": {"values": [-100, -50, 0, 50], "title": null, "labelExpr": "toString(datum.value)"}},
               "y2": {"field": "hi"}}},
            {"data": {"name": "modSpikes"}, "mark": {"type": "rule", "color": "#0000ff", "strokeWidth": 3, "opacity": 0.8, "clip": true},
             "encoding": {
               "x": {"field": "t", "type": "quantitative", "scale": {"domain": [0, 7.5], "nice": false, "zero": false}, "axis": null},
               "y": {"field": "lo", "type": "quantitative", "scale": {"domain": [-100, 50], "nice": false, "zero": false}, "axis": null},
               "y2": {"field": "hi"}}},
            {"data": {"name": "modBand"}, "mark": {"type": "point", "opacity": 0},
             "encoding": {
               "x": {"field": "t", "type": "quantitative", "scale": {"domain": [0, 7.5], "nice": false, "zero": false}, "axis": {"orient": "top", "values": [0,1,2,3,4,5,6,7], "labels": false, "title": null}},
               "y": {"field": "lo", "type": "quantitative", "scale": {"domain": [-100, 50], "nice": false, "zero": false}, "axis": {"orient": "right", "values": [-100, -50, 0, 50], "labels": false, "title": null}}}}
          ],
          "resolve": {"axis": {"x": "independent", "y": "independent"}}
        }
      ]
    },
    {
      "bounds": "flush",
      "spacing": 50,
      "hconcat": [
        {
          "width": 378, "height": 274,
          "title": {"text": "Rhythm", "offset": 3},
          "layer": [
            {"data": {"name": "rhythmRed"}, "mark": {"type": "line", "color": "#ff0000", "strokeWidth": 3, "clip": true},
             "encoding": {
               "x": {"field": "t", "type": "quantitative", "scale": {"domain": [0, 7.5], "nice": false, "zero": false}, "axis": {"values": [0,2,4,6], "title": "Time (s)"}},
               "y": {"field": "v", "type": "quantitative", "scale": {"domain": [0, 6], "nice": false, "zero": false}, "axis": {"values": [0,2,4,6], "title": "Spikes / 50 ms", "titlePadding": 12}}}},
            {"data": {"name": "rhythmBlue"}, "mark": {"type": "line", "color": "#0000ff", "strokeWidth": 3.5, "strokeDash": [0.1, 5], "strokeCap": "round", "clip": true},
             "encoding": {
               "x": {"field": "t", "type": "quantitative", "scale": {"domain": [0, 7.5], "nice": false, "zero": false}, "axis": null},
               "y": {"field": "v", "type": "quantitative", "scale": {"domain": [0, 6], "nice": false, "zero": false}, "axis": null}}},
            {"data": {"name": "rhythmRed"}, "mark": {"type": "point", "opacity": 0},
             "encoding": {
               "x": {"field": "t", "type": "quantitative", "scale": {"domain": [0, 7.5], "nice": false, "zero": false}, "axis": {"orient": "top", "values": [0,2,4,6], "labels": false, "title": null}},
               "y": {"field": "v", "type": "quantitative", "scale": {"domain": [0, 6], "nice": false, "zero": false}, "axis": {"orient": "right", "values": [0,2,4,6], "labels": false, "title": null}}}}
          ],
          "resolve": {"axis": {"x": "independent", "y": "independent"}}
        },
        {
          "width": 377, "height": 274,
          "title": {"text": "CDF", "offset": 3},
          "layer": [
            {"data": {"name": "cdfGray"}, "mark": {"type": "line", "color": "#c4c4c4", "strokeWidth": 2.5, "clip": true},
             "encoding": {
               "x": {"field": "t", "type": "quantitative", "scale": {"domain": [0, 7.5], "nice": false, "zero": false}, "axis": {"values": [0,2,4,6], "title": "Time (s)"}},
               "y": {"field": "v", "type": "quantitative", "scale": {"domain": [0, 6], "nice": false, "zero": false}, "axis": {"values": [0,2,4,6], "title": null}},
               "detail": {"field": "s"}}},
            {"data": {"name": "cdfBlue"}, "mark": {"type": "line", "color": "#0000ff", "strokeWidth": 4, "clip": true},
             "encoding": {
               "x": {"field": "t", "type": "quantitative", "scale": {"domain": [0, 7.5], "nice": false, "zero": false}, "axis": null},
               "y": {"field": "v", "type": "quantitative", "scale": {"domain": [0, 6], "nice": false, "zero": false}, "axis": null}}},
            {"data": {"name": "cdfRed"}, "mark": {"type": "line", "color": "#ff0000", "strokeWidth": 2.5, "strokeDash": [0.1, 4], "strokeCap": "round", "clip": true},
             "encoding": {
               "x": {"field": "t", "type": "quantitative", "scale": {"domain": [0, 7.5], "nice": false, "zero": false}, "axis": null},
               "y": {"field": "v", "type": "quantitative", "scale": {"domain": [0, 6], "nice": false, "zero": false}, "axis": null}}},
            {"data": {"name": "cdfRed"}, "mark": {"type": "point", "opacity": 0},
             "encoding": {
               "x": {"field": "t", "type": "quantitative", "scale": {"domain": [0, 7.5], "nice": false, "zero": false}, "axis": {"orient": "top", "values": [0,2,4,6], "labels": false, "title": null}},
               "y": {"field": "v", "type": "quantitative", "scale": {"domain": [0, 6], "nice": false, "zero": false}, "axis": {"orient": "right", "values": [0,2,4,6], "labels": false, "title": null}}}}
          ],
          "resolve": {"axis": {"x": "independent", "y": "independent"}}
        },
        {
          "width": 377, "height": 274,
          "title": {"text": "Corr. Coeff.", "offset": 14},
          "layer": [
            {"data": {"name": "corr"}, "mark": {"type": "line", "color": "#0000ff", "strokeWidth": 5, "interpolate": "monotone", "clip": true},
             "encoding": {
               "x": {"field": "t", "type": "quantitative", "scale": {"domain": [0, 7], "nice": false, "zero": false}, "axis": {"values": [0,2,4,6], "title": "Time (ms)"}},
               "y": {"field": "r", "type": "quantitative", "scale": {"domain": [0.2, 0.65], "nice": false, "zero": false}, "axis": {"values": [0.2,0.3,0.4,0.5,0.6], "format": ".1f", "title": null}}}},
            {"data": {"name": "corr"}, "mark": {"type": "point", "opacity": 0},
             "encoding": {
               "x": {"field": "t", "type": "quantitative", "scale": {"domain": [0, 7], "nice": false, "zero": false}, "axis": {"orient": "top", "values": [0,2,4,6], "labels": false, "title": null}},
               "y": {"field": "r", "type": "quantitative", "scale": {"domain": [0.2, 0.65], "nice": false, "zero": false}, "axis": {"orient": "right", "values": [0.2,0.3,0.4,0.5,0.6], "labels": false, "title": null}}}}
          ],
          "resolve": {"axis": {"x": "independent", "y": "independent"}}
        }
      ]
    }
  ]
}
